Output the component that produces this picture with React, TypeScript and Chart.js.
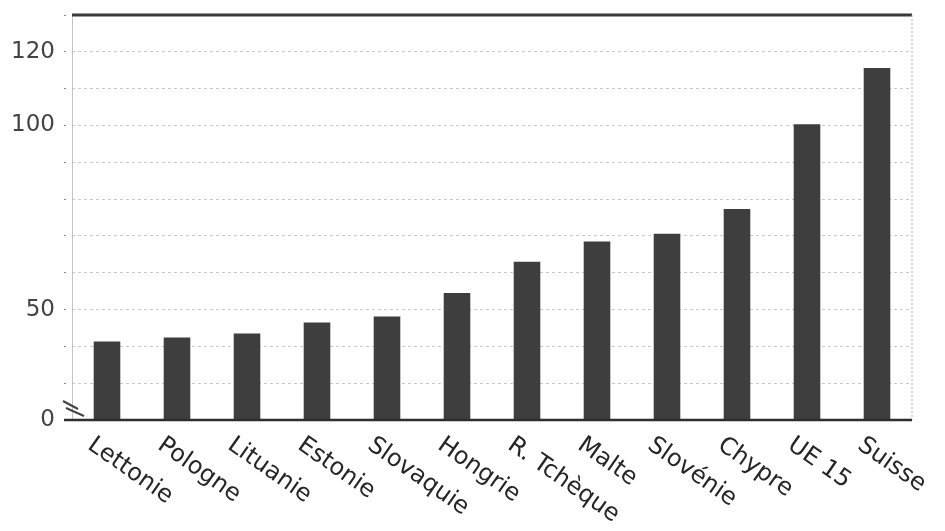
import React, { useEffect, useRef } from "react";
import { Chart, registerables } from "chart.js";

Chart.register(...registerables);

const categories = [
  "Lettonie", "Pologne", "Lituanie", "Estonie", "Slovaquie", "Hongrie",
  "R. Tchèque", "Malte", "Slovénie", "Chypre", "UE 15", "Suisse",
];
const values = [41.3, 42.4, 43.5, 46.5, 48.1, 54.5, 63.0, 68.5, 70.6, 77.3, 100.3, 115.6];
// axis is broken: its bottom (20) is labelled "0"
const yMin = 20;
const yMax = 130;
const yStep = 10;
const yLabels: Record<number, string> = { 20: "0", 50: "50", 100: "100", 120: "120" };

const FONT = "'DejaVu Sans', Verdana, sans-serif";

const decorPlugin = {
  id: "decor",
  afterDraw(chart: any) {
    const { ctx, chartArea } = chart;
    const xs = chart.scales.x;
    ctx.save();
    // left axis line (light, solid)
    ctx.strokeStyle = "#c4c4c4";
    ctx.lineWidth = 1;
    ctx.beginPath();
    ctx.moveTo(chartArea.left + 0.5, chartArea.top);
    ctx.lineTo(chartArea.left + 0.5, chartArea.bottom);
    ctx.stroke();
    // top border (thick)
    ctx.strokeStyle = "#3a3a3a";
    ctx.lineWidth = 3;
    ctx.beginPath();
    ctx.moveTo(chartArea.left, chartArea.top);
    ctx.lineTo(chartArea.right, chartArea.top);
    ctx.stroke();
    // right border dotted
    ctx.strokeStyle = "#b0b0b0";
    ctx.lineWidth = 1;
    ctx.setLineDash([2, 2]);
    ctx.beginPath();
    ctx.moveTo(chartArea.right, chartArea.top);
    ctx.lineTo(chartArea.right, chartArea.bottom);
    ctx.stroke();
    ctx.setLineDash([]);
    // bottom axis line
    ctx.strokeStyle = "#2e2e2e";
    ctx.lineWidth = 2.5;
    ctx.beginPath();
    ctx.moveTo(chartArea.left - 8, chartArea.bottom);
    ctx.lineTo(chartArea.right, chartArea.bottom);
    ctx.stroke();
    // axis break symbol
    ctx.strokeStyle = "#444";
    ctx.lineWidth = 2;
    const bx = chartArea.left;
    const by = chartArea.bottom;
    ctx.beginPath();
    ctx.moveTo(bx - 9, by - 19);
    ctx.lineTo(bx + 6, by - 11);
    ctx.moveTo(bx - 6, by - 12);
    ctx.lineTo(bx + 12, by - 4);
    ctx.stroke();
    // rotated category labels (reading downward to the right)
    ctx.fillStyle = "#262626";
    ctx.font = `24px ${FONT}`;
    ctx.textAlign = "left";
    ctx.textBaseline = "top";
    const angle = (35 * Math.PI) / 180;
    categories.forEach((c, i) => {
      const x = xs.getPixelForValue(i) - 10;
      const y = chartArea.bottom + 13;
      ctx.save();
      ctx.translate(x, y);
      ctx.rotate(angle);
      ctx.fillText(c, 0, 0);
      ctx.restore();
    });
    ctx.restore();
  },
};

export default function App() {
  const ref = useRef<HTMLCanvasElement | null>(null);
  useEffect(() => {
    if (!ref.current) return;
    const chart = new Chart(ref.current, {
      type: "bar",
      data: {
        labels: categories,
        datasets: [
          {
            data: values,
            backgroundColor: "#3e3e3e",
            borderWidth: 0,
            barPercentage: 0.38,
            categoryPercentage: 1,
          },
        ],
      },
      options: {
        animation: false,
        responsive: false,
        maintainAspectRatio: false,
        layout: { padding: { left: 0, top: 15, right: 33, bottom: 0 } },
        plugins: { legend: { display: false }, tooltip: { enabled: false } },
        scales: {
          x: {
            grid: { display: false },
            border: { display: false },
            ticks: { display: false },
            afterFit: (s: any) => {
              s.height = 111;
              s.paddingLeft = 0;
              s.paddingRight = 0;
            },
          },
          y: {
            min: yMin,
            max: yMax,
            border: { display: false, dash: [3, 3] },
            grid: {
              color: (ctx: any) =>
                ctx.tick && (ctx.tick.value === yMax || ctx.tick.value === yMin)
                  ? "rgba(0,0,0,0)"
                  : "#c9c9c9",
              lineWidth: 1,
              drawTicks: true,
              tickLength: 8,
              tickColor: "#8a8a8a",
              tickBorderDash: [2, 8],
            },
            ticks: {
              stepSize: yStep,
              autoSkip: false,
              padding: 9,
              color: "#444",
              font: { family: FONT, size: 23 },
              callback: (v: any) => yLabels[Number(v)] ?? "",
            },
            afterFit: (s: any) => {
              s.width = 72;
              s.paddingTop = 0;
              s.paddingBottom = 0;
            },
          },
        },
      },
      plugins: [decorPlugin],
    });
    return () => chart.destroy();
  }, []);
  return (
    <div style={{ position: "fixed", left: 0, top: 0, width: 945, height: 531, background: "#fff" }}>
      <canvas ref={ref} width={945} height={531} style={{ width: 945, height: 531 }} />
    </div>
  );
}
